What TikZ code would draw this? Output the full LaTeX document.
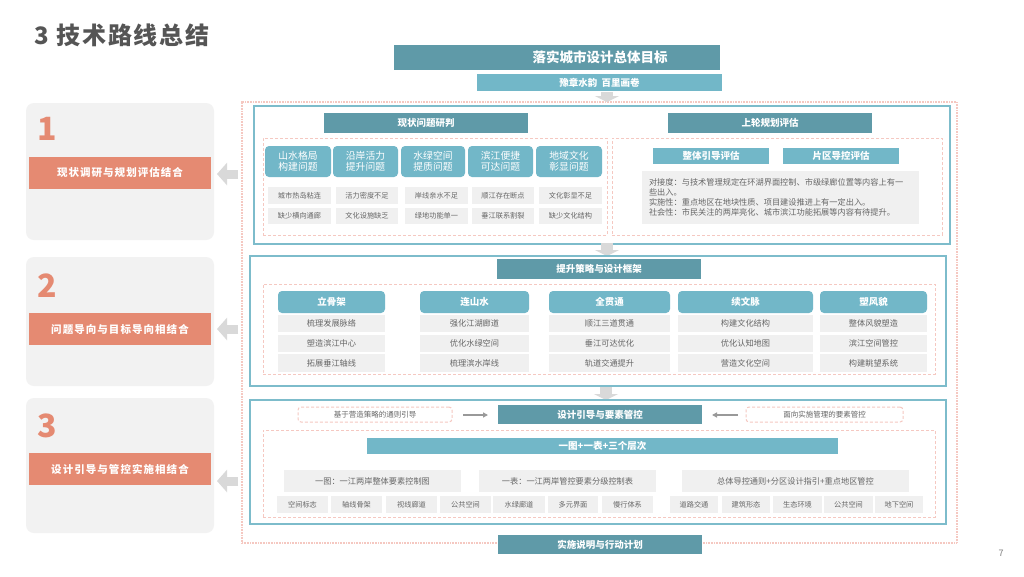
\documentclass[tikz,border=0pt]{standalone}
\usepackage{fontspec}
\setmainfont{Noto Sans CJK SC}
\usetikzlibrary{arrows.meta}
\definecolor{dk}{HTML}{5F9AA8}
\definecolor{lt}{HTML}{72B7C8}
\definecolor{frm}{HTML}{7DBCCB}
\definecolor{pk}{HTML}{F5C8C1}
\definecolor{cellg}{HTML}{F0F0F0}
\definecolor{panelg}{HTML}{F2F2F2}
\definecolor{org}{HTML}{E58A72}
\definecolor{txtg}{HTML}{666666}
\definecolor{arrg}{HTML}{D9D9D9}
\definecolor{ttl}{HTML}{555555}
\newcommand\mybox[7]{\node[#2, minimum width={#5-#3}, minimum height={#6-#4}] (#1) at ({(#3+#5)/2},{(#4+#6)/2}) {#7};}
\begin{document}
\begin{tikzpicture}[x=1pt,y=-1pt,
  base/.style={inner sep=0pt, outer sep=0pt, align=center},
  dkhdr/.style={base, fill=dk, text=white, font=\bfseries\fontsize{9.5}{11}\selectfont},
  lthdr/.style={base, fill=lt, text=white, font=\bfseries\fontsize{9.5}{11}\selectfont},
  prob/.style={base, fill=lt, rounded corners=4pt, text=white, font=\fontsize{9.8}{11}\selectfont},
  colhdr/.style={base, fill=lt, rounded corners=4pt, text=white, font=\bfseries\fontsize{9.5}{11}\selectfont},
  cell/.style={base, fill=cellg, text=txtg, font=\fontsize{7.2}{8}\selectfont},
  cellb/.style={base, fill=cellg, text=txtg, font=\fontsize{8.2}{9}\selectfont},
  panel/.style={base, fill=panelg, rounded corners=8pt},
  obar/.style={base, fill=org, text=white, font=\bfseries\fontsize{10.5}{12}\selectfont\addfontfeatures{LetterSpace=10}},
  num/.style={inner sep=0pt, outer sep=0pt, text=org, font=\bfseries\fontsize{32}{32}\selectfont},
  tframe/.style={base, draw=frm, line width=1.6pt},
  pdash/.style={base, draw=pk, line width=1pt, dash pattern=on 3pt off 2pt},
  pdashr/.style={base, draw=pk, line width=1pt, dash pattern=on 3pt off 2pt, rounded corners=3pt, text=txtg, font=\fontsize{7.5}{8}\selectfont},
  dotfrm/.style={base, draw=pk, line width=1.2pt, dash pattern=on 0.8pt off 0.8pt},
  larr/.style={draw=arrg, line width=9pt, -{Triangle[width=22pt,length=10pt]}},
  darr/.style={draw=arrg, line width=12pt, -{Triangle[width=24pt,length=6pt]}},
  sarr/.style={draw=gray!80, line width=1.6pt, -{Triangle[width=5pt,length=5pt]}}
]
\useasboundingbox[fill=white] (0,0) rectangle (1024,576);

% title
\node[anchor=west, inner sep=0pt, text=ttl, font=\bfseries\fontsize{24}{26}\selectfont\addfontfeatures{LetterSpace=8}] (title) at (34,35) {3 技术路线总结};

% left panels
\mybox{p1}{panel}{26}{103}{214}{240}{}
\mybox{p2}{panel}{26}{257}{214}{386}{}
\mybox{p3}{panel}{26}{398}{214}{533}{}
\node[num, anchor=base west] (n1) at (37,140) {1};
\node[num, anchor=base west] (n2) at (37,297) {2};
\node[num, anchor=base west] (n3) at (37,437) {3};
\mybox{b1}{obar}{29}{157}{211}{189}{现状调研与规划评估结合}
\mybox{b2}{obar}{29}{313}{211}{345}{问题导向与目标导向相结合}
\mybox{b3}{obar}{29}{453}{211}{485}{设计引导与管控实施相结合}

% outer dotted frame
\mybox{outer}{dotfrm}{242}{102}{957}{543}{}

% left arrows
\coordinate (a1s) at (238,174); \coordinate (a1e) at (217,174);
\coordinate (a2s) at (238,329); \coordinate (a2e) at (217,329);
\coordinate (a3s) at (238,481); \coordinate (a3e) at (217,481);
\draw[larr] (a1s) -- (a1e);
\draw[larr] (a2s) -- (a2e);
\draw[larr] (a3s) -- (a3e);

% goal
\mybox{goal}{dkhdr}{394}{45}{720}{70}{}
\node[inner sep=0pt, text=white, font=\bfseries\fontsize{13.5}{15}\selectfont] (goaltxt) at (600,57.5) {落实城市设计总体目标};
\mybox{sub}{lthdr}{477}{74}{722}{91}{豫章水韵\ \ 百里画卷}
\coordinate (d1s) at (607,92); \coordinate (d1e) at (607,102);
\draw[darr] (d1s) -- (d1e);

% section 1
\mybox{s1}{tframe}{254}{106}{950}{244}{}
\mybox{h1a}{dkhdr}{324}{113}{528}{133}{现状问题研判}
\mybox{h1b}{dkhdr}{668}{113}{872}{133}{上轮规划评估}
\mybox{d1a}{pdash}{263}{138}{607}{235}{}
\mybox{d1b}{pdash}{612}{138}{942}{235}{}
\mybox{pb1}{prob}{265}{146}{331}{177}{山水格局\\构建问题}
\mybox{pb2}{prob}{333}{146}{398}{177}{沿岸活力\\提升问题}
\mybox{pb3}{prob}{401}{146}{465}{177}{水绿空间\\提质问题}
\mybox{pb4}{prob}{468}{146}{533}{177}{滨江便捷\\可达问题}
\mybox{pb5}{prob}{536}{146}{602}{177}{地域文化\\彰显问题}
\mybox{r1c1}{cell}{268}{187}{331}{204}{城市热岛粘连}
\mybox{r1c2}{cell}{336}{187}{398}{204}{活力密度不足}
\mybox{r1c3}{cell}{405}{187}{468}{204}{岸线亲水不足}
\mybox{r1c4}{cell}{472}{187}{534}{204}{顺江存在断点}
\mybox{r1c5}{cell}{539}{187}{602}{204}{文化彰显不足}
\mybox{r2c1}{cell}{268}{208}{331}{224}{缺少横向通廊}
\mybox{r2c2}{cell}{336}{208}{398}{224}{文化设施缺乏}
\mybox{r2c3}{cell}{405}{208}{468}{224}{绿地功能单一}
\mybox{r2c4}{cell}{472}{208}{534}{224}{垂江联系割裂}
\mybox{r2c5}{cell}{539}{208}{602}{224}{缺少文化结构}
\mybox{e1}{lthdr}{653}{148}{769}{164}{整体引导评估}
\mybox{e2}{lthdr}{783}{148}{899}{164}{片区导控评估}
\node[base, fill=cellg, text=txtg, minimum width=277, minimum height=53, text width=263, align=left, font=\fontsize{8.2}{9.8}\selectfont] (eval) at (780.5,197.5) {对接度：与技术管理规定在环湖界面控制、市级绿廊位置等内容上有一\\些出入。\\实施性：重点地区在地块性质、项目建设推进上有一定出入。\\社会性：市民关注的两岸亮化、城市滨江功能拓展等内容有待提升。};

\coordinate (d2s) at (607,243); \coordinate (d2e) at (607,256);
\draw[darr] (d2s) -- (d2e);

% section 2
\mybox{s2}{tframe}{250}{256}{946}{386}{}
\mybox{h2}{dkhdr}{497}{259}{701}{279}{提升策略与设计框架}
\mybox{d2}{pdash}{263}{284}{935}{374}{}
\mybox{k1}{colhdr}{278}{291}{385}{313}{立骨架}
\mybox{k2}{colhdr}{420}{291}{529}{313}{连山水}
\mybox{k3}{colhdr}{549}{291}{670}{313}{全贯通}
\mybox{k4}{colhdr}{678}{291}{813}{313}{续文脉}
\mybox{k5}{colhdr}{820}{291}{927}{313}{塑风貌}
\mybox{k1a}{cellb}{278}{315}{385}{332}{梳理发展脉络}
\mybox{k1b}{cellb}{278}{335}{385}{352}{塑造滨江中心}
\mybox{k1c}{cellb}{278}{354}{385}{372}{拓展垂江轴线}
\mybox{k2a}{cellb}{420}{315}{529}{332}{强化江湖廊道}
\mybox{k2b}{cellb}{420}{335}{529}{352}{优化水绿空间}
\mybox{k2c}{cellb}{420}{354}{529}{372}{梳理滨水岸线}
\mybox{k3a}{cellb}{549}{315}{670}{332}{顺江三道贯通}
\mybox{k3b}{cellb}{549}{335}{670}{352}{垂江可达优化}
\mybox{k3c}{cellb}{549}{354}{670}{372}{轨道交通提升}
\mybox{k4a}{cellb}{678}{315}{813}{332}{构建文化结构}
\mybox{k4b}{cellb}{678}{335}{813}{352}{优化认知地图}
\mybox{k4c}{cellb}{678}{354}{813}{372}{营造文化空间}
\mybox{k5a}{cellb}{820}{315}{927}{332}{整体风貌塑造}
\mybox{k5b}{cellb}{820}{335}{927}{352}{滨江空间管控}
\mybox{k5c}{cellb}{820}{354}{927}{372}{构建眺望系统}

\coordinate (d3s) at (606,387); \coordinate (d3e) at (606,400);
\draw[darr] (d3s) -- (d3e);

% section 3
\mybox{s3}{tframe}{250}{400}{946}{524}{}
\mybox{h3}{dkhdr}{498}{405}{702}{424}{设计引导与要素管控}
\mybox{g1}{pdashr}{298}{407}{452}{422}{基于营造策略的通则引导}
\mybox{g2}{pdashr}{746}{407}{903}{422}{面向实施管理的要素管控}
\coordinate (m1s) at (463,415); \coordinate (m1e) at (488,415);
\coordinate (m2s) at (738,415); \coordinate (m2e) at (712,415);
\draw[sarr] (m1s) -- (m1e);
\draw[sarr] (m2s) -- (m2e);
\mybox{d3}{pdash}{263}{430}{935}{517}{}
\mybox{bar3}{lthdr}{367}{438}{838}{454}{一图+一表+三个层次}
\mybox{t1}{cellb}{284}{470}{461}{492}{一图：一江两岸整体要素控制图}
\mybox{t2}{cellb}{479}{470}{656}{492}{一表：一江两岸管控要素分级控制表}
\mybox{t3}{cellb}{682}{470}{909}{492}{总体导控通则+分区设计指引+重点地区管控}
\mybox{q1}{cell}{277}{496}{328}{513}{空间标志}
\mybox{q2}{cell}{331}{496}{382}{513}{轴线骨架}
\mybox{q3}{cell}{386}{496}{437}{513}{视线廊道}
\mybox{q4}{cell}{440}{496}{491}{513}{公共空间}
\mybox{q5}{cell}{493}{496}{545}{513}{水绿廊道}
\mybox{q6}{cell}{548}{496}{598}{513}{多元界面}
\mybox{q7}{cell}{602}{496}{653}{513}{慢行体系}
\mybox{q8}{cell}{670}{496}{718}{513}{道路交通}
\mybox{q9}{cell}{722}{496}{770}{513}{建筑形态}
\mybox{q10}{cell}{773}{496}{822}{513}{生态环境}
\mybox{q11}{cell}{824}{496}{873}{513}{公共空间}
\mybox{q12}{cell}{875}{496}{923}{513}{地下空间}

% bottom
\mybox{impl}{dkhdr}{498}{535}{702}{554}{实施说明与行动计划}
\node[inner sep=0pt, text=gray, font=\fontsize{9}{10}\selectfont] (pg) at (1001,553) {7};
\end{tikzpicture}
\end{document}
